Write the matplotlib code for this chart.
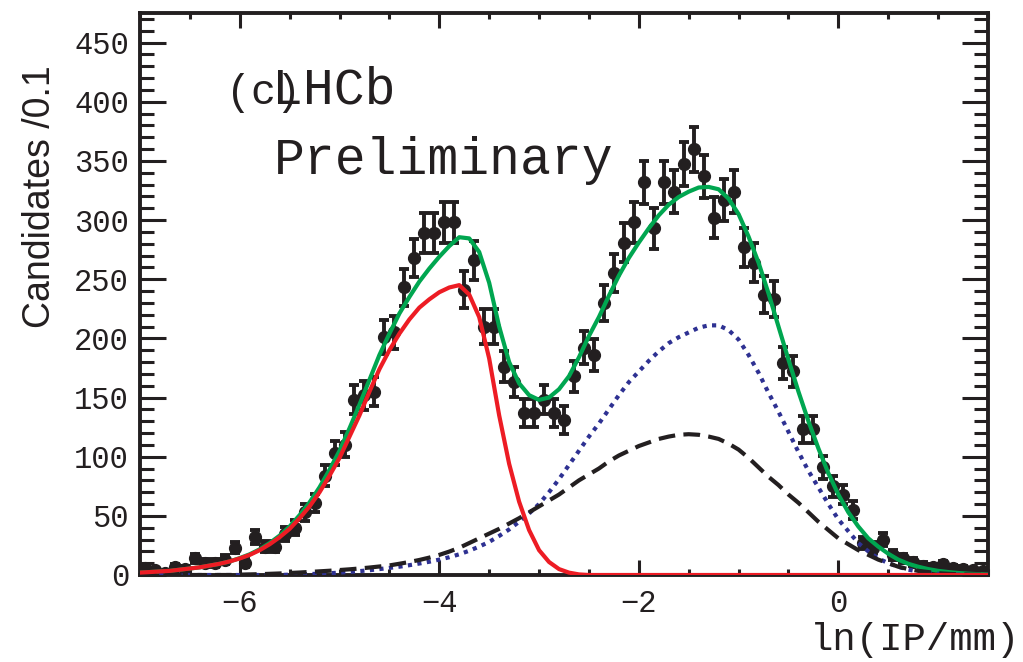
import matplotlib
matplotlib.use('Agg')
import matplotlib.pyplot as plt
import numpy as np
from matplotlib.ticker import MultipleLocator

# histogram: 85 bins of 0.1 in ln(IP/mm), from -7.0 to 1.5
counts = [6, 4, 2, 7, 5, 14, 10, 10, 13, 23,
          10, 32, 24, 24, 35, 40, 53, 61, 84, 103,
          110, 148, 152, 155, 201, 205, 243, 268, 289, 289,
          298, 298, 241, 266, 210, 210, 176, 163, 137, 137,
          148, 137, 131, 168, 192, 186, 230, 255, 281, 298,
          332, 293, 332, 324, 347, 360, 337, 302, 317, 324,
          277, 264, 237, 233, 179, 172, 123, 123, 91, 75,
          68, 55, 27, 23, 30, 17, 14, 11, 8, 7,
          9, 6, 5, 4, 3]
bin_lo, bin_w = -7.0, 0.1

# fit curves sampled at x = -7.0, -6.9, ..., 1.5
fit_x = np.round(np.arange(-7.0, 1.55, 0.1), 1)

red = [2, 2.5, 3, 3.5, 4.5, 5.5, 6.5, 8, 9.5, 11.5,
       14, 17, 21, 26, 32, 39, 48, 58, 70, 84,
       99, 117, 135, 155, 174, 190, 204, 216, 226, 233,
       239, 243, 245, 237, 218, 183, 135, 94, 62, 38,
       21, 11, 5, 2, 0.5] + [0] * 41

blue = [0] * 15 + [0.3, 0.5, 0.8, 1.1, 1.5,
       2, 2.6, 3.3, 4, 5, 6, 7, 8.3, 9.7, 11.2,
       13, 15, 17.5, 20.5, 24, 28, 33, 38.5, 45, 52,
       60, 70, 81, 93, 105, 117, 128, 140, 152, 163,
       172, 181, 189, 196, 201, 205, 209, 211, 211, 207,
       199, 186, 171, 154, 138, 121, 104, 88, 74, 60,
       47, 37, 27, 20, 14, 10, 7, 4.5, 3, 1.5,
       1, 0.5, 0.3, 0.1, 0, 0]

black = [0] * 10 + [0.3, 0.5, 0.7, 1, 1.3, 1.7, 2.1, 2.6, 3.1, 3.6,
        4.2, 4.8, 5.5, 6.3, 7.2, 8.1, 9.5, 11, 12.7, 14.7,
        17, 19.8, 23, 27, 31, 35, 39, 43.5, 48, 53,
        58, 63, 68, 74, 80, 85, 90, 96, 101, 105,
        109, 112, 115, 117, 118.5, 119, 118.5, 117, 115, 111,
        106, 99, 91, 83, 76, 68, 61, 53, 45, 38,
        31, 26, 21, 17, 13, 10, 7, 5, 3.5, 2.5,
        1.5, 1, 0.6, 0.3, 0.2, 0.1]

total = [2, 2.5, 3, 3.5, 4.5, 5.5, 6.5, 8, 9.5, 11.5,
         14.3, 17.5, 21.7, 27, 33.3, 41, 50.6, 61.4, 74.2, 89,
         105, 124, 144, 165, 186, 204, 221, 235, 248, 259,
         269, 278, 285.5, 284.5, 273, 247, 210, 180, 162, 152,
         148, 150, 157, 168, 184, 202, 218, 236, 253, 268,
         281, 293, 304, 313, 319.5, 324, 327.5, 328, 326, 318,
         305, 286, 264, 238, 210, 182, 155, 130, 107, 86,
         68, 53, 41, 31, 24, 18, 13, 9.5, 7, 5,
         3.5, 2.5, 1.7, 1.1, 0.7, 0.4]

mono = 'Liberation Mono'
ink = '#231f20'

fig = plt.figure(figsize=(10.23, 6.62), dpi=100)
ax = fig.add_axes([140 / 1023, 1 - 575 / 662, 848 / 1023, 562 / 662])

y = np.array(counts, dtype=float)
xc = bin_lo + bin_w * (np.arange(len(y)) + 0.5)
ax.errorbar(xc, y, yerr=np.sqrt(y), fmt='o', color=ink, ms=8.5,
            elinewidth=2.8, capsize=3.5, capthick=2.8, zorder=2)

ax.plot(fit_x, total, color='#00a650', lw=3, zorder=3)
ax.plot(fit_x, blue, color='#2e3192', lw=3, ls=(0, (1, 1.3)), zorder=4)
ax.plot(fit_x, black, color=ink, lw=3, ls=(0, (4, 2)), zorder=4)
ax.plot(fit_x, red, color='#ed1c24', lw=3, zorder=5)

ax.set_xlim(-7.0, 1.5)
ax.set_ylim(0, 475)
ax.xaxis.set_major_locator(MultipleLocator(2))
ax.xaxis.set_minor_locator(MultipleLocator(0.5))
ax.yaxis.set_major_locator(MultipleLocator(50))
ax.yaxis.set_minor_locator(MultipleLocator(10))
ax.tick_params(which='both', direction='in', top=True, right=True, width=2.2,
               color=ink)
ax.tick_params(axis='x', which='major', length=11, pad=10)
ax.tick_params(axis='x', which='minor', length=4.5)
ax.tick_params(axis='y', which='major', length=19, pad=8)
ax.tick_params(axis='y', which='minor', length=10)
for lab in ax.get_xticklabels() + ax.get_yticklabels():
    lab.set_fontfamily(mono)
    lab.set_fontsize(22)
    lab.set_color(ink)
for s in ax.spines.values():
    s.set_linewidth(2.8)
    s.set_color(ink)

fig.text(1020 / 1023, 1 - 650 / 662, 'ln(IP/mm)', ha='right', va='baseline',
         fontsize=28, family=mono, color=ink)
fig.text(40 / 1023, 1 - 197 / 662, 'Candidates /0.1', ha='center', va='center',
         rotation=90, fontsize=27, family='Liberation Sans', color=ink)

fig.text(226 / 1023, 1 - 104 / 662, '(c)', ha='left', va='baseline',
         fontsize=30, family=mono, color=ink)
fig.text(272 / 1023, 1 - 104 / 662, 'LHCb', ha='left', va='baseline',
         fontsize=37, family=mono, color=ink)
fig.text(274 / 1023, 1 - 174 / 662, 'Preliminary', ha='left', va='baseline',
         fontsize=37, family=mono, color=ink)

fig.savefig('out.png', dpi=100)
